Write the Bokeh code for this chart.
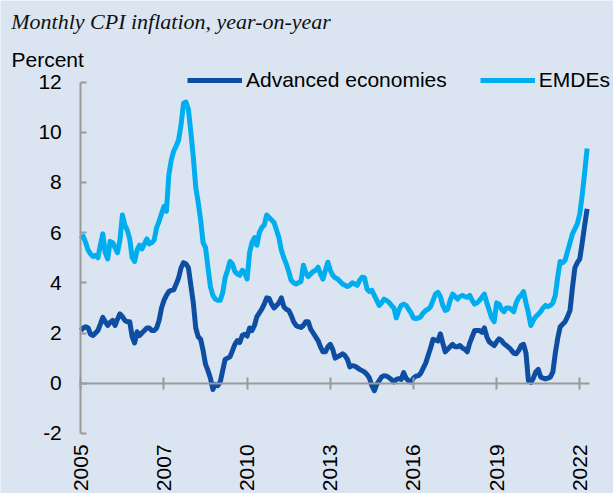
import math
from bokeh.plotting import figure
from bokeh.models import Range1d, FixedTicker, LinearAxis, Label, Legend, LegendItem, ColumnDataSource
from bokeh.embed import file_html
from bokeh.resources import INLINE

# Monthly data, Jan 2005 .. Apr 2022 (index 0 = Jan 2005)
advanced = [
    2.10, 2.20, 2.25, 2.20, 1.95, 1.90, 2.00, 2.10, 2.35, 2.62, 2.45, 2.30,   # 2005
    2.42, 2.50, 2.30, 2.55, 2.76, 2.65, 2.50, 2.45, 2.45, 1.85, 1.60, 2.05,   # 2006
    1.90, 2.00, 2.10, 2.20, 2.20, 2.10, 2.10, 2.20, 2.50, 3.00, 3.30, 3.50,   # 2007
    3.65, 3.70, 3.72, 3.95, 4.20, 4.60, 4.80, 4.75, 4.60, 3.90, 3.20, 2.20,   # 2008
    1.85, 1.75, 1.30, 0.75, 0.50, 0.20, -0.25, -0.05, -0.10, 0.05, 0.50, 0.95,  # 2009
    1.00, 1.05, 1.30, 1.55, 1.70, 1.62, 1.90, 1.95, 1.88, 2.20, 2.10, 2.30,   # 2010
    2.65, 2.80, 2.95, 3.15, 3.40, 3.38, 3.15, 3.00, 3.10, 3.20, 3.40, 3.05,   # 2011
    2.95, 2.90, 2.70, 2.45, 2.30, 2.25, 2.22, 2.30, 2.45, 2.45, 2.15, 2.00,   # 2012
    1.85, 1.70, 1.45, 1.25, 1.25, 1.45, 1.55, 1.35, 1.00, 1.05, 1.10, 1.17,   # 2013
    1.10, 0.95, 0.65, 0.70, 0.68, 0.62, 0.55, 0.50, 0.45, 0.35, 0.20, -0.10,  # 2014
    -0.30, -0.05, 0.10, 0.25, 0.30, 0.28, 0.22, 0.15, 0.05, 0.15, 0.18, 0.15,  # 2015
    0.42, 0.20, 0.10, 0.05, 0.20, 0.28, 0.30, 0.40, 0.60, 0.80, 1.10, 1.40,   # 2016
    1.75, 1.72, 1.68, 1.97, 1.60, 1.25, 1.35, 1.45, 1.55, 1.45, 1.45, 1.50,   # 2017
    1.40, 1.35, 1.25, 1.60, 1.85, 2.10, 2.10, 2.10, 2.03, 2.20, 1.85, 1.65,   # 2018
    1.57, 1.50, 1.65, 1.77, 1.70, 1.57, 1.50, 1.42, 1.32, 1.20, 1.17, 1.30,   # 2019
    1.50, 1.55, 1.20, 0.10, 0.03, 0.20, 0.45, 0.55, 0.25, 0.20, 0.17, 0.20,   # 2020
    0.25, 0.45, 1.20, 1.80, 2.25, 2.35, 2.45, 2.65, 2.90, 3.80, 4.60, 4.80,   # 2021
    4.95, 5.60, 6.30, 6.95,                                                   # 2022
]
emdes = [
    5.75, 5.85, 5.60, 5.30, 5.15, 5.05, 5.10, 5.00, 5.50, 5.95, 5.20, 4.95,   # 2005
    5.65, 5.60, 5.40, 5.20, 5.70, 6.70, 6.30, 6.10, 5.75, 5.00, 4.85, 5.30,   # 2006
    5.50, 5.35, 5.55, 5.75, 5.55, 5.60, 5.70, 6.20, 6.45, 6.75, 7.05, 6.85,   # 2007
    8.30, 8.90, 9.25, 9.45, 9.70, 10.30, 11.15, 11.20, 10.90, 10.00, 9.00, 7.80,  # 2008
    7.20, 6.50, 5.60, 5.40, 4.60, 3.85, 3.50, 3.35, 3.30, 3.30, 3.60, 4.20,   # 2009
    4.50, 4.85, 4.75, 4.45, 4.35, 4.30, 4.50, 4.40, 4.15, 5.20, 5.60, 5.80,   # 2010
    5.50, 6.00, 6.20, 6.30, 6.70, 6.60, 6.50, 6.40, 6.10, 5.80, 5.30, 5.00,   # 2011
    4.75, 4.45, 4.10, 4.00, 3.95, 4.00, 4.05, 4.70, 4.40, 4.25, 4.35, 4.45,   # 2012
    4.50, 4.62, 4.35, 4.15, 4.50, 4.82, 4.50, 4.30, 4.20, 4.15, 4.05, 3.95,   # 2013
    3.90, 3.85, 3.90, 4.00, 3.95, 3.90, 4.10, 4.22, 4.20, 3.75, 3.65, 3.70,   # 2014
    3.50, 3.30, 3.10, 3.20, 3.35, 3.30, 3.22, 3.10, 3.00, 2.60, 2.90, 3.10,   # 2015
    3.15, 3.10, 2.95, 2.80, 2.60, 2.58, 2.60, 2.65, 2.80, 2.90, 2.95, 3.05,   # 2016
    3.30, 3.55, 3.62, 3.45, 3.10, 2.90, 2.95, 3.30, 3.55, 3.45, 3.35, 3.45,   # 2017
    3.50, 3.45, 3.42, 3.50, 3.30, 3.15, 3.20, 3.30, 3.42, 3.55, 3.20, 2.90,   # 2018
    2.60, 2.45, 3.20, 3.15, 2.95, 2.85, 3.00, 3.00, 2.95, 2.85, 3.20, 3.40,   # 2019
    3.50, 3.65, 3.20, 2.80, 2.30, 2.50, 2.65, 2.75, 2.85, 3.00, 3.10, 3.05,   # 2020
    3.10, 3.20, 3.50, 4.25, 4.85, 4.80, 4.90, 5.25, 5.60, 5.95, 6.15, 6.35,   # 2021
    6.75, 7.50, 8.40, 9.35,                                                   # 2022
]
month_index = list(range(len(advanced)))

tick_months = [0, 34, 68, 102, 136, 170, 204]
tick_labels = ["2005", "2007", "2010", "2013", "2016", "2019", "2022"]
y_ticks = [-2, 0, 2, 4, 6, 8, 10, 12]
y_labels = ["-2", "0", "2", "4", "6", "8", "10", "12"]

BG = "#dbe5f1"
AE_COLOR = "#0d4ea3"
EM_COLOR = "#00aeef"
AXIS = "#9a9a9a"
FONT = "Liberation Sans"

W, H = 613, 493
# layout: plot area position on the canvas (pixels)
X0_PX, PX_PER_MONTH = 80.3, 2.446
Y0_PX, PX_PER_UNIT = 382.7, 25.1
x_rng = Range1d(-X0_PX / PX_PER_MONTH, (W - X0_PX) / PX_PER_MONTH)
y_rng = Range1d(-(H - Y0_PX) / PX_PER_UNIT, Y0_PX / PX_PER_UNIT)

source = ColumnDataSource(dict(m=month_index, ae=advanced, em=emdes))

p = figure(width=W, height=H, output_backend="svg", toolbar_location=None,
           x_range=x_rng, y_range=y_rng, min_border=0,
           x_axis_location=None, y_axis_location=None,
           background_fill_color=BG, border_fill_color=BG)
p.outline_line_color = None
p.grid.visible = False

# y axis at x = 0
ya = LinearAxis(fixed_location=0, bounds=(-2, 12), ticker=FixedTicker(ticks=y_ticks),
                major_label_overrides={t: l for t, l in zip(y_ticks, y_labels)})
ya.axis_line_color = AXIS
ya.axis_line_width = 2
ya.major_tick_line_color = AXIS
ya.major_tick_line_width = 2
ya.major_tick_in = 6
ya.major_tick_out = 0
ya.minor_tick_line_color = None
ya.major_label_standoff = 19
ya.major_label_text_font = FONT
ya.major_label_text_font_size = "21px"
ya.major_label_text_color = "black"
p.add_layout(ya, "left")

# x axis line with ticks at zero
xa = LinearAxis(fixed_location=0, bounds=(0, 208), ticker=FixedTicker(ticks=tick_months))
xa.axis_line_color = AXIS
xa.axis_line_width = 2
xa.major_tick_line_color = AXIS
xa.major_tick_line_width = 2
xa.major_tick_in = 6
xa.major_tick_out = 6
xa.minor_tick_line_color = None
xa.major_label_text_alpha = 0
xa.major_label_text_font_size = "1px"
p.add_layout(xa, "below")

# year labels below the -2 level
xb = LinearAxis(fixed_location=-2, ticker=FixedTicker(ticks=tick_months),
                major_label_overrides={t: l for t, l in zip(tick_months, tick_labels)})
xb.axis_line_color = None
xb.major_tick_line_color = None
xb.minor_tick_line_color = None
xb.major_label_orientation = math.pi / 2
xb.major_label_standoff = 5
xb.major_label_text_font = FONT
xb.major_label_text_font_size = "21px"
xb.major_label_text_color = "black"
p.add_layout(xb, "below")

r_em = p.line("m", "em", source=source, line_color=EM_COLOR, line_width=5, line_join="round")
r_ae = p.line("m", "ae", source=source, line_color=AE_COLOR, line_width=5, line_join="round")

legend = Legend(items=[LegendItem(label="Advanced economies", renderers=[r_ae]),
                       LegendItem(label="EMDEs", renderers=[r_em])],
                orientation="horizontal", location=(187, 401),
                glyph_width=55, glyph_height=24, label_height=24, label_standoff=4, spacing=33,
                padding=0, margin=0, border_line_color=None, background_fill_alpha=0,
                label_text_font=FONT, label_text_font_size="21px", label_text_color="black")
p.add_layout(legend, "center")

title = Label(x=10.7, y=H - 20.5, x_units="screen", y_units="screen",
              text="Monthly CPI inflation, year-on-year", text_font="Liberation Serif",
              text_font_style="italic", text_font_size="22px", text_baseline="alphabetic",
              text_color="#111111")
p.add_layout(title)
unit = Label(x=11, y=H - 58.7, x_units="screen", y_units="screen", text="Percent",
             text_font=FONT, text_font_size="21px", text_baseline="alphabetic", text_color="black")
p.add_layout(unit)

open("out.html", "w").write(file_html(p, INLINE))
